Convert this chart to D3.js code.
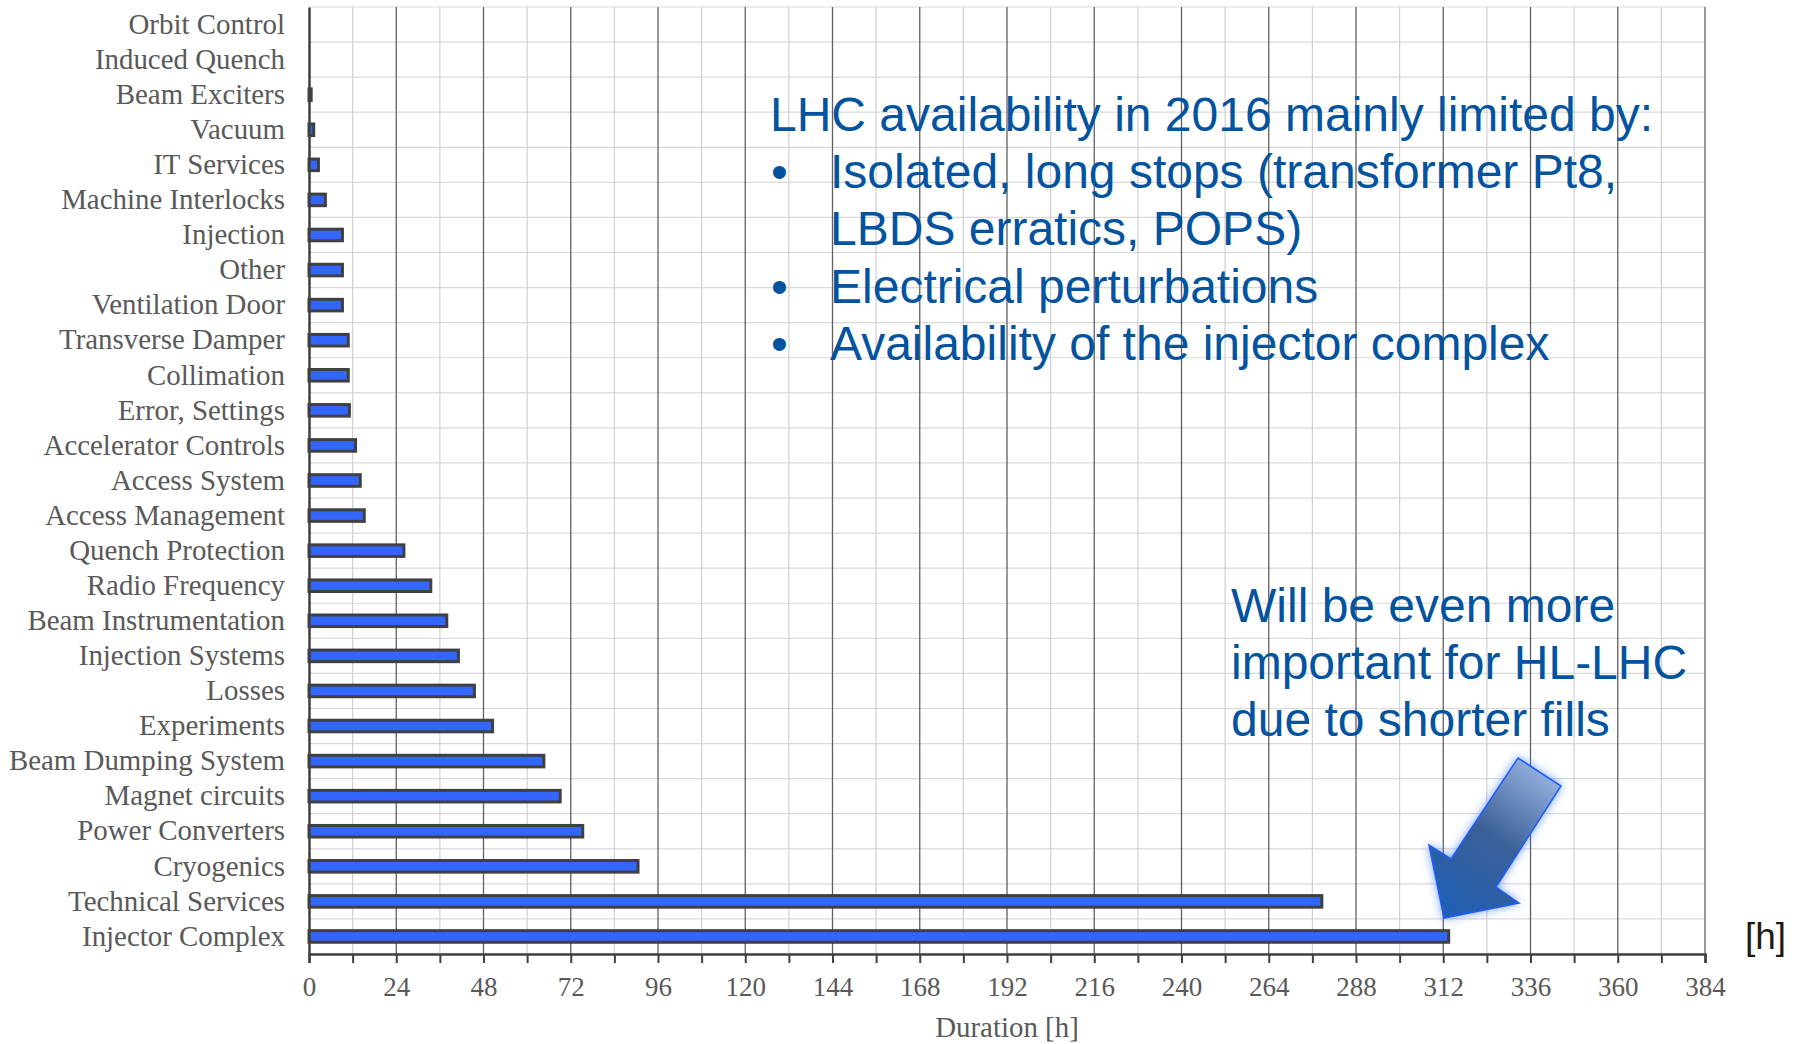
<!DOCTYPE html>
<html>
<head>
<meta charset="utf-8">
<script src="https://cdn.jsdelivr.net/npm/d3@7"></script>
<style>
  html, body { margin: 0; padding: 0; background: #fff; }
  svg { display: block; }
</style>
</head>
<body>
<svg width="1802" height="1044"></svg>
<script>
// downtime per system, 2016 (hours), top to bottom as drawn
const categories = [
  'Orbit Control', 'Induced Quench', 'Beam Exciters', 'Vacuum', 'IT Services',
  'Machine Interlocks', 'Injection', 'Other', 'Ventilation Door', 'Transverse Damper',
  'Collimation', 'Error, Settings', 'Accelerator Controls', 'Access System',
  'Access Management', 'Quench Protection', 'Radio Frequency', 'Beam Instrumentation',
  'Injection Systems', 'Losses', 'Experiments', 'Beam Dumping System', 'Magnet circuits',
  'Power Converters', 'Cryogenics', 'Technical Services', 'Injector Complex'
];
const hours = [
  0, 0, 0.6, 1.3, 2.6, 4.5, 9.2, 9.2, 9.2, 10.8,
  10.8, 11.1, 12.8, 14.1, 15.2, 26.1, 33.5, 37.9,
  41.1, 45.5, 50.5, 64.6, 69.1, 75.3, 90.5, 278.6, 313.5
];
const tickValues = d3.range(0, 385, 12);

const headline = 'LHC availability in 2016 mainly limited by:';
const bullets = [
  ['Isolated, long stops (transformer Pt8,', 'LBDS erratics, POPS)'],
  ['Electrical perturbations'],
  ['Availability of the injector complex']
];
const note = ['Will be even more', 'important for HL-LHC', 'due to shorter fills'];

const svg = d3.select('svg');
const plotLeft = 309, plotRight = 1705, plotTop = 7, plotBottom = 954;

const x = d3.scaleLinear().domain([0, 384]).range([plotLeft, plotRight]);
const y = d3.scaleBand().domain(categories).range([plotTop, plotBottom])
  .paddingInner(0.67).paddingOuter(0.335);
const rows = d3.scaleBand().domain(categories).range([plotTop, plotBottom]);

// grid
const grid = svg.append('g');
grid.selectAll('.hgrid')
  .data(d3.range(categories.length + 1))
  .join('line')
  .attr('x1', plotLeft).attr('x2', plotRight)
  .attr('y1', i => plotTop + i * rows.step())
  .attr('y2', i => plotTop + i * rows.step())
  .attr('stroke', '#d9d9d9').attr('stroke-width', 1.2);
grid.selectAll('.vgrid')
  .data(tickValues.slice(1))
  .join('line')
  .attr('x1', d => x(d)).attr('x2', d => x(d))
  .attr('y1', plotTop).attr('y2', plotBottom)
  .attr('stroke', d => d % 24 === 0 ? '#606060' : '#d0d0d0')
  .attr('stroke-width', d => d % 24 === 0 ? 1.3 : 1.2);

// bars
svg.append('g').selectAll('rect')
  .data(categories.map((c, i) => ({ c, v: hours[i] })).filter(d => d.v > 0))
  .join('rect')
  .attr('x', x(0))
  .attr('y', d => y(d.c))
  .attr('width', d => x(d.v) - x(0))
  .attr('height', y.bandwidth())
  .attr('fill', '#3366ff')
  .attr('stroke', '#404040')
  .attr('stroke-width', 3);

// axes
const xAxis = svg.append('g')
  .attr('transform', `translate(0,${plotBottom})`)
  .call(d3.axisBottom(x).tickValues(tickValues).tickSize(9).tickPadding(14)
    .tickFormat(d => d % 24 === 0 ? d : ''));
xAxis.select('.domain').attr('stroke', '#404040').attr('stroke-width', 2.5);
xAxis.selectAll('.tick line').attr('stroke', '#404040').attr('stroke-width', 2);
xAxis.selectAll('.tick text')
  .attr('font-family', '"Liberation Serif", "Times New Roman", serif')
  .attr('font-size', 27).attr('fill', '#595959');

const yAxis = svg.append('g')
  .attr('transform', `translate(${plotLeft},0)`)
  .call(d3.axisLeft(rows).tickSize(0).tickPadding(24));
yAxis.select('.domain').attr('stroke', '#404040').attr('stroke-width', 2.5);
yAxis.selectAll('.tick text')
  .attr('font-family', '"Liberation Serif", "Times New Roman", serif')
  .attr('font-size', 28.9).attr('fill', '#595959');

svg.append('text')
  .attr('x', (plotLeft + plotRight) / 2).attr('y', 1037)
  .attr('text-anchor', 'middle')
  .attr('font-family', '"Liberation Serif", "Times New Roman", serif')
  .attr('font-size', 28.9).attr('fill', '#595959')
  .text('Duration [h]');

svg.append('text')
  .attr('x', 1745).attr('y', 949)
  .attr('font-family', '"Liberation Sans", Arial, sans-serif')
  .attr('font-size', 37).attr('fill', '#1e1a12')
  .text('[h]');

// annotations
const blue = '#03539f';
const sans = '"Liberation Sans", Arial, sans-serif';
const ann = svg.append('g').attr('font-family', sans).attr('font-size', 48).attr('fill', blue);
ann.append('text').attr('x', 770).attr('y', 131).text(headline);
let line = 1;
bullets.forEach(b => {
  ann.append('text').attr('x', 771).attr('y', 131 + line * 57.2).text('•');
  b.forEach(t => {
    ann.append('text').attr('x', 830).attr('y', 131 + line * 57.2).text(t);
    line++;
  });
});
note.forEach((t, i) => {
  ann.append('text').attr('x', 1231).attr('y', 622 + i * 57.2).text(t);
});

// arrow
const defs = svg.append('defs');
const grad = defs.append('linearGradient').attr('id', 'arrowFill')
  .attr('x1', '80%').attr('y1', '0%').attr('x2', '20%').attr('y2', '100%');
grad.append('stop').attr('offset', '0%').attr('stop-color', '#9ab4e0');
grad.append('stop').attr('offset', '50%').attr('stop-color', '#3a6099');
grad.append('stop').attr('offset', '100%').attr('stop-color', '#215eb2');
const glow = defs.append('filter').attr('id', 'glow')
  .attr('x', '-30%').attr('y', '-30%').attr('width', '160%').attr('height', '160%');
glow.append('feGaussianBlur').attr('in', 'SourceAlpha').attr('stdDeviation', 5).attr('result', 'b');
glow.append('feFlood').attr('flood-color', '#3b78ff').attr('flood-opacity', 0.7);
glow.append('feComposite').attr('in2', 'b').attr('operator', 'in').attr('result', 'g');
const merge = glow.append('feMerge');
merge.append('feMergeNode').attr('in', 'g');
merge.append('feMergeNode').attr('in', 'SourceGraphic');

const arrowPts = [
  [1518, 758], [1561, 786], [1496, 887], [1519, 903],
  [1444, 918], [1429, 845], [1451, 859]
];
svg.append('path')
  .attr('d', d3.line()(arrowPts) + 'Z')
  .attr('fill', 'url(#arrowFill)')
  .attr('stroke', '#1f5cff').attr('stroke-width', 1.5)
  .attr('filter', 'url(#glow)');
</script>
</body>
</html>
